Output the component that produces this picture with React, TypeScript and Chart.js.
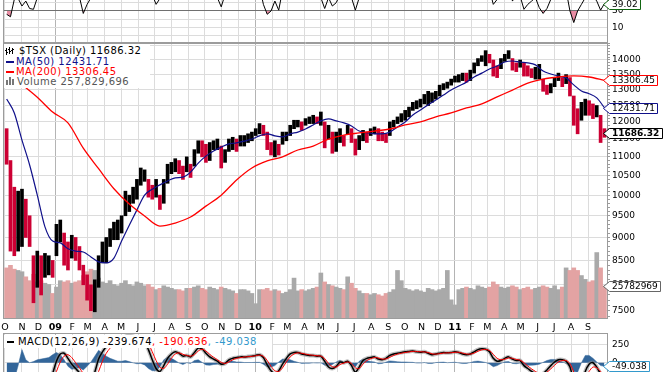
import React, { useEffect, useRef } from 'react';
import { Chart, registerables } from 'chart.js';

Chart.register(...registerables);

const FONT = '"DejaVu Sans", Verdana, sans-serif';

// ---------------- tick labels ----------------
const monthLabels = ['O','N','D','09','F','M','A','M','J','J','A','S','O','N','D','10','F','M','A','M','J','J','A','S','O','N','D','11','F','M','A','M','J','J','A','S'];
const yearLabels = ['09', '10', '11'];
const priceLabels = [7500, 8000, 8500, 9000, 9500, 10000, 10500, 11000, 11500, 12000, 12500, 13000, 13500, 14000];
const priceGrid = [7500, 8000, 8500, 9000, 9500, 10000, 10500, 11000, 11500, 12000, 12500, 13000, 13500, 14000, 14500];
const rsiGrid = [0, 10, 20, 30, 40];
const rsiLabels = [10, 30];
const macdGrid = [0, 250];
const macdLabels = [0, 250];

// ---------------- series (weekly, from Oct 2008) ----------------
const weekHigh = [
  11800, 10900, 10200, 10100, 10150, 9900, 9500, 8600, 8700, 8600,
  8650, 8600, 8500, 9300, 9400, 9100, 8900, 9050, 9000, 8800,
  8400, 8200, 8000, 8100, 8600, 8900, 9000, 9200, 9350, 9400,
  9500, 10100, 10000, 10200, 10400, 10700, 10650, 10400, 10250, 10400,
  10000, 10400, 10800, 10850, 10950, 10900, 10750, 11000, 10800, 11200,
  11450, 11450, 11350, 11400, 11450, 11500, 11300, 11200, 11500, 11550,
  11500, 11600, 11600, 11650, 11700, 11800, 11950, 11900, 11700, 11400,
  11450, 11350, 11700, 11700, 11900, 12050, 12050, 12000, 12100, 12150,
  12200, 12150, 12300, 12000, 11900, 11700, 11700, 11800, 11600, 11900,
  11800, 11500, 11600, 11750, 11700, 11800, 11850, 11800, 11700, 11650,
  12000, 12050, 12150, 12250, 12350, 12450, 12600, 12650, 12700, 12850,
  12950, 12900, 12950, 13150, 13200, 13250, 13350, 13450, 13500, 13550,
  13550, 13650, 13900, 14050, 14150, 14330, 14200, 14000, 13800, 14050,
  14200, 14330, 14050, 13900, 14000, 13900, 13800, 13700, 13750, 13850,
  13350, 13150, 13200, 13400, 13550, 13400, 13500, 13400, 12800, 12400,
  12600, 12700, 12650, 12550, 12500, 12200, 11800,
];
const weekLow = [
  10800, 8700, 8600, 8700, 8800, 9000, 8800, 7650, 7950, 7800,
  8150, 8200, 8150, 8600, 8900, 8400, 8300, 8550, 8500, 8300,
  8000, 7700, 7500, 7480, 7950, 8450, 8450, 8800, 8950, 8950,
  9100, 9500, 9600, 9800, 9900, 10250, 10350, 9950, 9900, 9950,
  9650, 9800, 10300, 10550, 10600, 10550, 10400, 10600, 10450, 10750,
  11100, 11000, 10850, 10900, 11200, 11200, 10700, 10850, 11150, 11200,
  11150, 11300, 11300, 11400, 11450, 11600, 11650, 11600, 11200, 11050,
  11000, 11050, 11350, 11450, 11600, 11800, 11850, 11750, 11900, 11950,
  11950, 11950, 11900, 11250, 11500, 11100, 11150, 11400, 11300, 11650,
  11400, 11050, 11200, 11450, 11400, 11600, 11650, 11450, 11450, 11400,
  11600, 11850, 11950, 12000, 12050, 12150, 12350, 12400, 12450, 12550,
  12500, 12600, 12700, 12800, 13000, 13050, 13150, 13250, 13250, 13300,
  13250, 13300, 13550, 13800, 13950, 13800, 13900, 13450, 13400, 13700,
  13950, 14050, 13650, 13600, 13750, 13450, 13450, 13400, 13350, 13350,
  12950, 12850, 12900, 13100, 13300, 13100, 13200, 12800, 11900, 11650,
  12050, 12200, 12200, 12100, 12150, 11400, 11550,
];
// volume, millions of shares
const volumeM = [
  400, 420, 390, 380, 370, 330, 300, 350, 290, 300,
  280, 270, 200, 250, 300, 290, 300, 280, 290, 300,
  340, 370, 390, 380, 320, 290, 280, 300, 270, 260,
  280, 300, 270, 260, 290, 280, 260, 270, 250, 230,
  240, 260, 250, 240, 230, 230, 220, 240, 240, 250,
  260, 240, 230, 250, 240, 230, 250, 240, 230, 220,
  200, 230, 230, 220, 200, 120, 230, 230, 240, 220,
  230, 220, 200, 210, 230, 320, 220, 230, 220, 230,
  240, 250, 360, 290, 270, 260, 250, 240, 230, 330,
  280, 240, 220, 200, 200, 190, 200, 190, 180, 200,
  210, 230, 380, 300, 240, 230, 220, 230, 220, 210,
  240, 230, 220, 230, 240, 380, 150, 110, 230, 240,
  250, 240, 230, 260, 250, 240, 250, 290, 270, 250,
  240, 250, 260, 250, 230, 240, 250, 230, 240, 250,
  260, 250, 240, 260, 230, 250, 400, 380, 400, 380,
  340, 310, 290, 300, 520, 400, 257.8,
];
const rsi14 = [
  26, 23, 44, 45, 36, 42, 33, 32, 46, 50,
  52, 50, 54, 58, 60, 52, 48, 50, 52, 47,
  27, 38, 46, 55, 60, 62, 65, 63, 66, 64,
  62, 68, 62, 64, 66, 60, 56, 52, 50, 38,
  45, 58, 68, 66, 62, 58, 52, 60, 55, 60,
  64, 62, 56, 58, 54, 46, 35, 50, 56, 58,
  56, 60, 62, 60, 64, 66, 60, 38, 26, 30,
  42, 31, 55, 60, 64, 66, 62, 64, 62, 66,
  62, 60, 46, 33, 46, 36, 40, 50, 45, 55,
  46, 31, 46, 55, 52, 56, 58, 44, 50, 48,
  56, 62, 64, 66, 62, 65, 66, 64, 62, 66,
  56, 54, 56, 60, 64, 66, 68, 66, 62, 60,
  58, 64, 66, 68, 65, 62, 56, 38, 44, 56,
  60, 62, 42, 50, 48, 32, 38, 42, 46, 34,
  27, 33, 44, 56, 60, 52, 55, 30, 16, 30,
  38, 46, 50, 48, 42, 31, 39.02,
];
const macdLine = [
  -450, -720, -850, -800, -560, -600, -620, -600, -540, -470,
  -390, -300, -150, 20, 120, 130, 60, -20, -80, -140,
  -250, -280, -250, -130, 50, 150, 220, 260, 290, 300,
  320, 360, 370, 360, 340, 330, 290, 180, 40, -80,
  -120, -40, 60, 120, 150, 130, 90, 100, 80, 140,
  200, 190, 130, 80, 50, 20, -20, -10, 40, 60,
  70, 80, 80, 85, 90, 100, 110, 70, -30, -110,
  -150, -110, -20, 60, 120, 140, 140, 120, 110, 100,
  100, 90, 90, 20, -60, -80, -50, 10, 0, 20,
  -40, -130, -60, 30, 60, 70, 80, 50, 40, 60,
  100, 120, 130, 140, 150, 155, 160, 150, 145, 150,
  130, 110, 120, 130, 140, 135, 140, 150, 140, 120,
  110, 120, 150, 180, 190, 185, 150, 60, 20, 30,
  60, 80, 50, 30, 30, -40, -80, -120, -150, -170,
  -150, -100, -40, 10, 40, 40, 20, -60, -250, -400,
  -300, -120, -20, 0, -60, -160, -239.674,
];
const macdSignal = [
  -250, -420, -620, -760, -740, -640, -620, -615, -580, -520,
  -450, -370, -260, -120, 10, 90, 110, 70, 0, -70,
  -150, -230, -260, -220, -120, 20, 130, 200, 250, 280,
  300, 330, 355, 362, 355, 340, 320, 260, 150, 30,
  -60, -80, -20, 60, 120, 135, 115, 100, 90, 110,
  160, 185, 160, 115, 75, 40, 5, -10, 10, 40,
  60, 70, 78, 82, 87, 95, 105, 90, 30, -50,
  -110, -120, -70, 10, 80, 120, 135, 130, 118, 108,
  102, 95, 92, 55, -10, -55, -60, -25, -5, 10,
  -10, -70, -80, -20, 30, 55, 70, 65, 50, 52,
  75, 100, 118, 130, 140, 148, 155, 155, 150, 148,
  140, 122, 118, 124, 132, 135, 137, 143, 143, 132,
  120, 118, 132, 158, 176, 182, 168, 115, 60, 40,
  48, 65, 60, 45, 35, 0, -45, -85, -120, -150,
  -155, -130, -85, -35, 10, 30, 30, -15, -130, -270,
  -300, -220, -120, -60, -70, -120, -190.636,
];
// moving averages: MA50 every 2 weeks, MA200 every 4 weeks
const ma50 = [
  12705, 12270, 11470, 10780, 10000, 9240, 8920, 8880, 8750, 8700,
  8680, 8575, 8470, 8450, 8550, 8920, 9280, 9640, 10000, 10150,
  10260, 10360, 10440, 10460, 10590, 10830, 11020, 11160, 11270, 11360,
  11390, 11440, 11500, 11590, 11650, 11590, 11560, 11650, 11700, 11790,
  11910, 12030, 12090, 12030, 11970, 11880, 11730, 11680, 11650, 11650,
  11700, 11850, 12000, 12210, 12360, 12520, 12670, 12830, 12990, 13120,
  13250, 13420, 13550, 13690, 13790, 13930, 13965, 13930, 13900, 13830,
  13620, 13520, 13450, 13390, 13160, 12960, 12870, 12740, 12431.71,
];
const ma200 = [
  13590, 13170, 12760, 12300, 11970, 11240, 10680, 10160, 9780, 9495,
  9260, 9330, 9470, 9730, 10000, 10385, 10700, 10890, 11000, 11190,
  11300, 11500, 11615, 11675, 11730, 11790, 11910, 12000, 12150, 12270,
  12425, 12550, 12770, 12990, 13220, 13350, 13420, 13455, 13420, 13306.45,
];
const lastClose = 11686.32;
const legendTitle = '$TSX (Daily) 11686.32';
const legendMa50 = 'MA(50) 12431.71';
const legendMa200 = 'MA(200) 13306.45';
const legendVolume = 'Volume 257,829,696';
const volumeFlag = '25782969';

// ---------------- geometry ----------------
const START = Date.UTC(2008, 9, 1);
const DAY_MIN = -3.65;
const DAY_MAX = 1099.7;
const AXIS_W = 57;
const monthDays = monthLabels.map((_, k) => Math.round((Date.UTC(2008, 9 + k, 1) - START) / 86400000));
const yearDays = new Set(monthDays.filter((_, k) => yearLabels.includes(monthLabels[k])));
const weekDay = (i: number) => 7 * i + 3;
const PRICE_MIN = 7347;
const PRICE_MAX = 14605;
const priceMinor: number[] = [];
for (let v = 7400; v <= 14600; v += 100) priceMinor.push(v);

const mids = weekHigh.map((h, i) => (h + weekLow[i]) / 2);
const isUp = mids.map((m, i) => (i === 0 ? false : m >= mids[i - 1]));
const hist = macdLine.map((m, i) => m - macdSignal[i]);
const last = (a: number[]) => a[a.length - 1];

function xScale(showLabels: boolean, height: number): any {
  return {
    type: 'linear',
    position: 'bottom',
    min: DAY_MIN,
    max: DAY_MAX,
    bounds: 'data',
    offset: false,
    afterBuildTicks: (s: any) => {
      s.ticks = monthDays.map((v) => ({ value: v }));
    },
    afterFit: (s: any) => {
      s.height = height;
      s.paddingLeft = 0;
      s.paddingRight = 0;
    },
    grid: {
      color: (c: any) => (c.tick && yearDays.has(c.tick.value) ? '#b4b4b4' : '#dcdcdc'),
      drawTicks: false,
      offset: false,
    },
    border: { display: false },
    ticks: {
      display: showLabels,
      autoSkip: false,
      maxRotation: 0,
      minRotation: 0,
      padding: 3,
      color: '#000',
      callback: (_v: any, i: number) => monthLabels[i],
      font: (c: any) => ({
        family: FONT,
        size: 9.5,
        weight: yearLabels.includes(monthLabels[c.index]) ? 'bold' : 'normal',
      }),
    },
  };
}

function framePlugin(sides: { top?: boolean; bottom?: boolean; left?: boolean; right?: boolean }): any {
  return {
    id: 'frame',
    afterDatasetsDraw(chart: any) {
      const { left, right, top, bottom } = chart.chartArea;
      const ctx = chart.ctx;
      ctx.save();
      ctx.strokeStyle = '#9c9c9c';
      ctx.lineWidth = 1;
      ctx.beginPath();
      if (sides.top) { ctx.moveTo(left, top + 0.5); ctx.lineTo(right + 1, top + 0.5); }
      if (sides.bottom) { ctx.moveTo(left, bottom - 0.5); ctx.lineTo(right + 1, bottom - 0.5); }
      if (sides.left) { ctx.moveTo(left + 0.5, top); ctx.lineTo(left + 0.5, bottom); }
      if (sides.right) { ctx.moveTo(right + 0.5, top); ctx.lineTo(right + 0.5, bottom); }
      ctx.stroke();
      ctx.restore();
    },
  };
}

type Box = { axis: string; value: number; text: string; color: string; bold?: boolean };
function boxPlugin(boxes: Box[]): any {
  return {
    id: 'valueBoxes',
    afterDraw(chart: any) {
      const ctx = chart.ctx;
      const right = chart.chartArea.right;
      ctx.save();
      for (const b of boxes) {
        const y = Math.round(chart.scales[b.axis].getPixelForValue(b.value)) + 0.5;
        ctx.font = `${b.bold ? 'bold ' : ''}9px ${FONT}`;
        const tw = ctx.measureText(b.text).width;
        const x0 = right - 3.5;
        const x1 = right + 2.5;
        const x2 = Math.round(x1 + tw + 5) + 0.5;
        ctx.beginPath();
        ctx.moveTo(x0, y);
        ctx.lineTo(x1, y - 5);
        ctx.lineTo(x2, y - 5);
        ctx.lineTo(x2, y + 5);
        ctx.lineTo(x1, y + 5);
        ctx.closePath();
        ctx.fillStyle = '#fff';
        ctx.fill();
        ctx.strokeStyle = b.color;
        ctx.lineWidth = 1;
        ctx.stroke();
        ctx.fillStyle = '#000';
        ctx.textBaseline = 'middle';
        ctx.textAlign = 'left';
        ctx.fillText(b.text, x1 + 2.5, y + 0.5);
      }
      ctx.restore();
    },
  };
}

function rightAxis(grid: number[], labels: number[], min: number, max: number, gridColor: (v: number) => string): any {
  return {
    type: 'linear',
    position: 'right',
    min,
    max,
    bounds: 'data',
    afterBuildTicks: (s: any) => {
      s.ticks = grid.map((v) => ({ value: v }));
    },
    afterFit: (s: any) => {
      s.width = AXIS_W;
      s.paddingTop = 0;
      s.paddingBottom = 0;
    },
    grid: { color: (c: any) => (c.tick ? gridColor(c.tick.value) : '#dcdcdc'), drawTicks: false },
    border: { display: false },
    ticks: {
      autoSkip: false,
      padding: 5,
      color: '#000',
      font: { family: FONT, size: 9 },
      callback: (v: any) => (labels.includes(Number(v)) ? String(v) : ''),
    },
  };
}

const baseOptions: any = {
  responsive: false,
  maintainAspectRatio: false,
  animation: false,
  events: [],
  layout: { padding: { left: 3, right: 0, top: 0, bottom: 0 } },
  plugins: { legend: { display: false }, tooltip: { enabled: false } },
};

export default function App() {
  const rsiRef = useRef<HTMLCanvasElement>(null);
  const mainRef = useRef<HTMLCanvasElement>(null);
  const macdRef = useRef<HTMLCanvasElement>(null);

  useEffect(() => {
    Chart.defaults.font.family = FONT;
    const charts: Chart[] = [];

    // ---------- RSI panel ----------
    charts.push(
      new Chart(rsiRef.current as HTMLCanvasElement, {
        type: 'line',
        data: {
          datasets: [
            {
              data: rsi14.map((v, i) => ({ x: weekDay(i), y: v })),
              borderColor: '#000',
              borderWidth: 1,
              pointRadius: 0,
              tension: 0,
              fill: { target: { value: 30 }, above: 'rgba(0,0,0,0)', below: 'rgba(204,0,51,0.45)' },
            } as any,
          ],
        },
        options: {
          ...baseOptions,
          scales: {
            x: xScale(false, 1),
            y: rightAxis(rsiGrid, rsiLabels, -8.8, 43.3, (v) => (v === 30 ? '#707070' : '#dcdcdc')),
          },
        },
        plugins: [
          framePlugin({ bottom: true, left: true, right: true }),
          boxPlugin([{ axis: 'y', value: last(rsi14), text: last(rsi14).toFixed(2), color: '#116611' }]),
        ],
      } as any)
    );

    // ---------- main price panel ----------
    charts.push(
      new Chart(mainRef.current as HTMLCanvasElement, {
        type: 'bar',
        data: {
          datasets: [
            {
              type: 'line',
              yAxisID: 'y',
              data: ma200.map((v, k) => ({ x: 28 * k + 3, y: v })),
              borderColor: '#ff0000',
              borderWidth: 1.3,
              pointRadius: 0,
              cubicInterpolationMode: 'monotone',
              order: 0,
            },
            {
              type: 'line',
              yAxisID: 'y',
              data: ma50.map((v, k) => ({ x: 14 * k + 3, y: v })),
              borderColor: '#10108a',
              borderWidth: 1.2,
              pointRadius: 0,
              cubicInterpolationMode: 'monotone',
              order: 1,
            },
            {
              type: 'bar',
              yAxisID: 'y',
              grouped: false,
              barThickness: 3,
              data: weekHigh.map((h, i) => ({ x: weekDay(i), y: [weekLow[i], h] })),
              backgroundColor: isUp.map((u) => (u ? '#000000' : '#cc0033')),
              borderWidth: 0,
              order: 2,
            },
            {
              type: 'bar',
              yAxisID: 'yVol',
              grouped: false,
              barThickness: 4,
              data: volumeM.map((v, i) => ({ x: weekDay(i), y: v })),
              backgroundColor: isUp.map((u) => (u ? '#a9a9a9' : '#e3a3a3')),
              borderWidth: 0,
              order: 3,
            },
          ],
        },
        options: {
          ...baseOptions,
          scales: {
            x: xScale(true, 14),
            y: {
              type: 'logarithmic',
              position: 'right',
              min: PRICE_MIN,
              max: PRICE_MAX,
              bounds: 'data',
              afterBuildTicks: (s: any) => {
                s.ticks = priceMinor.map((v) => ({ value: v }));
              },
              afterFit: (s: any) => {
                s.width = AXIS_W;
                s.paddingTop = 0;
                s.paddingBottom = 0;
              },
              grid: {
                color: (c: any) => (c.tick && priceGrid.includes(c.tick.value) ? '#dcdcdc' : 'rgba(0,0,0,0)'),
                tickColor: '#9c9c9c',
                tickLength: 3,
                drawTicks: true,
              },
              border: { display: false },
              ticks: {
                autoSkip: false,
                padding: 2,
                color: '#000',
                font: { family: FONT, size: 9 },
                callback: (v: any) => (priceLabels.includes(Number(v)) ? String(v) : ''),
              },
            },
            yVol: { type: 'linear', display: false, min: 0, max: 2160 },
          },
        },
        plugins: [
          framePlugin({ top: true, bottom: true, left: true, right: true }),
          boxPlugin([
            { axis: 'y', value: last(ma200), text: last(ma200).toFixed(2), color: '#ff0000' },
            { axis: 'y', value: last(ma50), text: last(ma50).toFixed(2), color: '#10108a' },
            { axis: 'y', value: lastClose, text: lastClose.toFixed(2), color: '#000000', bold: true },
            { axis: 'yVol', value: last(volumeM), text: volumeFlag, color: '#666666' },
          ]),
        ],
      } as any)
    );

    // ---------- MACD panel ----------
    charts.push(
      new Chart(macdRef.current as HTMLCanvasElement, {
        type: 'line',
        data: {
          datasets: [
            {
              data: macdSignal.map((v, i) => ({ x: weekDay(i), y: v })),
              borderColor: '#ff0000',
              borderWidth: 1,
              pointRadius: 0,
              tension: 0.3,
              order: 0,
            },
            {
              data: macdLine.map((v, i) => ({ x: weekDay(i), y: v })),
              borderColor: '#000',
              borderWidth: 1.5,
              pointRadius: 0,
              tension: 0.3,
              order: 1,
            },
            {
              data: macdLine.map((v, i) => ({ x: weekDay(i), y: v })),
              borderColor: 'rgba(140,140,140,0.55)',
              borderWidth: 4,
              pointRadius: 0,
              tension: 0.3,
              order: 2,
            },
            {
              data: hist.map((v, i) => ({ x: weekDay(i), y: v })),
              borderColor: '#33669a',
              borderWidth: 0.5,
              backgroundColor: '#33669a',
              fill: 'origin',
              pointRadius: 0,
              tension: 0,
              order: 3,
            },
          ],
        },
        options: {
          ...baseOptions,
          scales: {
            x: xScale(false, 0),
            y: rightAxis(macdGrid, macdLabels, -127.7, 408, () => '#dcdcdc'),
          },
        },
        plugins: [
          framePlugin({ top: true, left: true, right: true }),
          boxPlugin([
            { axis: 'y', value: last(macdLine), text: last(macdLine).toFixed(3), color: '#000000' },
            { axis: 'y', value: last(macdSignal), text: last(macdSignal).toFixed(3), color: '#ff0000' },
            { axis: 'y', value: last(hist), text: last(hist).toFixed(3), color: '#3399cc' },
          ]),
        ],
      } as any)
    );

    return () => charts.forEach((c) => c.destroy());
  }, []);

  const textStyle = (left: number, top: number, color: string): React.CSSProperties => ({
    position: 'absolute',
    left,
    top,
    height: 12,
    lineHeight: '12px',
    fontFamily: FONT,
    fontSize: 10,
    letterSpacing: '0.45px',
    color,
    whiteSpace: 'nowrap',
  });
  const bar = (left: number, top: number, w: number, h: number, color: string): React.CSSProperties => ({
    position: 'absolute',
    left,
    top,
    width: w,
    height: h,
    background: color,
  });

  return (
    <div style={{ position: 'fixed', left: 0, top: 0, width: 664, height: 372, overflow: 'hidden', background: '#fff' }}>
      <canvas ref={rsiRef} width={664} height={44} style={{ position: 'absolute', left: 0, top: 0 }} />
      <canvas ref={mainRef} width={664} height={290} style={{ position: 'absolute', left: 0, top: 43 }} />
      <canvas ref={macdRef} width={664} height={39} style={{ position: 'absolute', left: 0, top: 333 }} />

      {/* price legend */}
      <div style={{ position: 'absolute', left: 4, top: 44, width: 146, height: 44, background: '#fff' }} />
      <div style={bar(6, 48, 1, 7, '#000')} />
      <div style={bar(5, 50, 1, 1, '#000')} />
      <div style={bar(7, 52, 1, 1, '#000')} />
      <div style={bar(9, 47, 1, 7, '#000')} />
      <div style={bar(8, 49, 1, 1, '#000')} />
      <div style={bar(10, 51, 1, 1, '#000')} />
      <div style={bar(12, 48, 1, 6, '#000')} />
      <div style={bar(11, 50, 1, 1, '#000')} />
      <div style={bar(13, 49, 1, 1, '#000')} />
      <div style={textStyle(19, 45, '#000')}>{legendTitle}</div>
      <div style={bar(6, 61, 8, 2, '#10108a')} />
      <div style={textStyle(16, 56, '#10108a')}>{legendMa50}</div>
      <div style={bar(6, 71, 8, 2, '#ff0000')} />
      <div style={textStyle(16, 66, '#ff0000')}>{legendMa200}</div>
      <div style={bar(6, 80, 2, 5, '#777')} />
      <div style={bar(9, 77, 2, 8, '#777')} />
      <div style={bar(12, 79, 2, 6, '#777')} />
      <div style={textStyle(17, 76, '#555')}>{legendVolume}</div>

      {/* MACD legend */}
      <div style={{ position: 'absolute', left: 4, top: 335, width: 268, height: 13, background: '#fff' }} />
      <div style={bar(7, 341, 7, 2, '#000')} />
      <div style={textStyle(18, 336, '#000')}>
        <span style={{ color: '#000' }}>MACD(12,26,9) {last(macdLine).toFixed(3)}</span>
        <span style={{ color: '#ff0000' }}>, {last(macdSignal).toFixed(3)}</span>
        <span style={{ color: '#3399cc' }}>, {last(hist).toFixed(3)}</span>
      </div>
    </div>
  );
}
